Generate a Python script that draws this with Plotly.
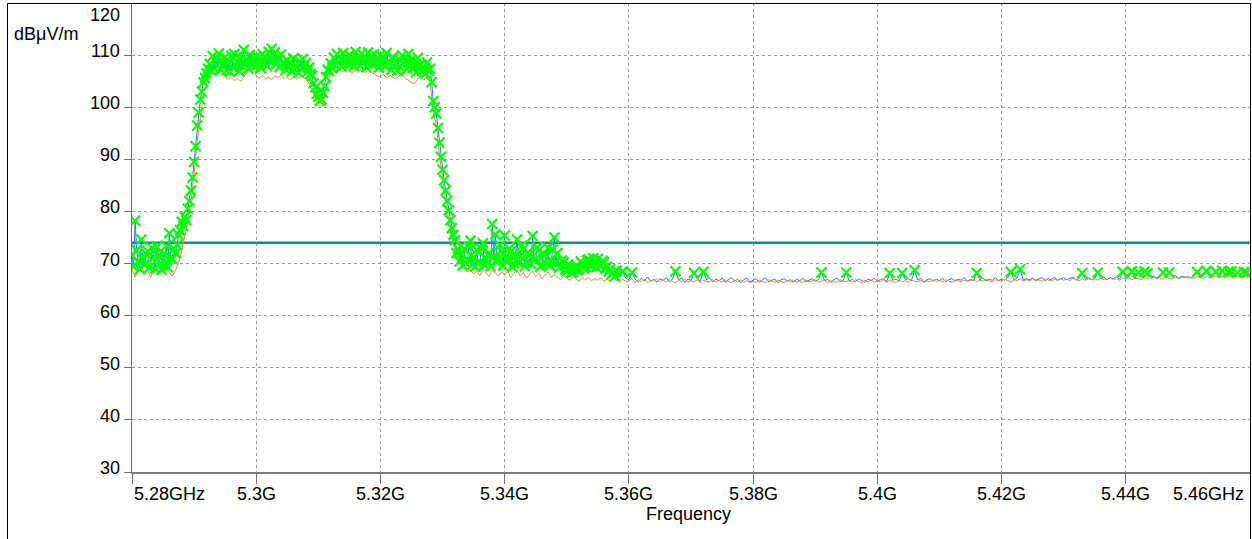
import numpy as np
import plotly.graph_objects as go

# Peak detector sweep: 0.25 MHz steps across the occupied band (5.28 - 5.358 GHz),
# 0.5 MHz steps above it up to 5.46 GHz
peak_freq_ghz = np.concatenate([np.linspace(5.28, 5.358, 313),
                                np.linspace(5.3585, 5.46, 204)])

# Peak detector trace (dBuV/m)
peak_dbuv = [
    # 5280.00 - 5358.00 MHz, 20 points per 5 MHz row
    71.5, 69.4, 78.2, 72.6, 70.5, 68.9, 74.6, 70.8, 69.8, 71.9, 72.4, 69.2, 69.5, 73.0, 71.2, 69.0, 73.2, 71.4, 70.0, 68.8,
    71.8, 70.2, 73.4, 69.3, 75.8, 71.0, 70.9, 72.8, 72.0, 73.6, 75.5, 76.4, 78.0, 77.2, 79.0, 78.3, 80.5, 82.0, 84.0, 86.5,
    89.5, 92.5, 96.5, 99.0, 101.5, 103.0, 104.8, 105.6, 106.5, 107.4, 108.3, 107.0, 109.8, 107.5, 109.2, 108.0, 110.3, 107.2, 109.0, 108.1,
    109.6, 107.1, 108.4, 106.8, 109.9, 107.6, 110.2, 108.0, 108.8, 106.9, 109.5, 107.8, 111.0, 108.3, 109.3, 107.4, 110.0, 108.6, 109.4, 107.9,
    109.8, 108.2, 108.9, 107.5, 110.2, 108.7, 109.5, 107.9, 110.6, 108.8, 111.2, 109.0, 110.5, 108.4, 109.6, 107.7, 110.1, 108.5, 108.6, 107.2,
    109.0, 107.6, 108.2, 106.9, 109.4, 107.8, 107.9, 106.6, 108.8, 107.3, 109.3, 107.9, 108.5, 106.8, 107.6, 106.4, 106.0, 104.6, 103.8, 102.6,
    102.0, 101.2, 101.5, 102.8, 104.0, 105.8, 107.2, 106.9, 108.4, 107.5, 109.5, 108.1, 110.2, 108.6, 109.1, 107.8, 110.4, 108.7, 109.6, 108.2,
    110.0, 108.4, 109.2, 107.9, 110.6, 108.8, 109.4, 108.0, 110.3, 108.6, 109.0, 107.7, 110.5, 108.9, 109.8, 108.2, 110.1, 108.5, 109.0, 107.6,
    110.0, 108.3, 109.5, 107.8, 110.4, 108.7, 108.6, 107.2, 109.6, 107.9, 108.4, 107.0, 109.2, 107.6, 109.9, 108.3, 108.8, 107.4, 110.2, 108.5,
    109.1, 107.5, 108.3, 106.7, 109.5, 107.8, 108.2, 106.9, 107.6, 106.5, 108.6, 107.0, 107.4, 104.8, 101.2, 100.0, 98.8, 96.0, 93.2, 90.5,
    88.0, 86.0, 84.0, 82.0, 80.2, 78.3, 76.8, 75.5, 74.5, 72.0, 72.8, 70.4, 71.8, 69.6, 72.8, 70.1, 70.8, 73.2, 74.4, 69.8,
    71.2, 69.4, 72.6, 70.0, 70.3, 72.9, 73.9, 69.7, 70.9, 71.8, 72.0, 69.5, 77.6, 71.3, 75.6, 70.2, 71.0, 73.5, 72.4, 69.6,
    75.4, 70.8, 70.6, 72.9, 72.3, 69.3, 70.0, 71.5, 74.6, 70.1, 71.4, 73.4, 72.8, 69.5, 70.2, 72.1, 71.7, 69.9, 75.3, 70.7,
    70.9, 73.1, 72.5, 69.4, 69.8, 71.9, 71.6, 70.0, 73.0, 69.6, 70.4, 72.7, 75.0, 70.3, 72.0, 69.2, 69.5, 70.6, 70.2, 68.9,
    68.6, 69.8, 69.2, 68.3, 68.4, 69.0, 69.6, 68.7, 69.0, 70.4, 70.0, 69.1, 69.4, 70.6, 70.8, 69.5, 69.8, 71.0, 70.3, 69.3,
    70.9, 69.7, 69.6, 70.5, 70.2, 69.0, 69.4, 68.5, 68.9, 68.0, 68.2, 67.6, 68.6,
    # 5358.5 - 5460.0 MHz, 10 points per 5 MHz row
    67.4, 68.5, 67.2,
    66.9, 68.3, 67.0, 66.5, 67.2, 66.7, 67.4, 66.6, 67.0, 66.4,
    67.1, 66.8, 67.3, 66.5, 67.0, 68.5, 66.9, 67.2, 66.4, 67.0,
    66.8, 68.2, 67.1, 66.6, 68.4, 66.9, 67.3, 66.5, 67.0, 66.7,
    67.2, 66.4, 66.9, 67.3, 66.6, 67.0, 66.3, 66.9, 67.2, 66.5,
    66.8, 67.1, 66.4, 66.9, 67.2, 66.5, 66.8, 67.0, 66.3, 66.9,
    67.1, 66.6, 66.9, 66.4, 67.0, 66.7, 67.2, 66.5, 66.8, 67.1,
    66.6, 66.9, 68.3, 66.7, 67.0, 66.4, 66.9, 67.2, 66.5, 66.8,
    68.3, 66.6, 67.0, 66.5, 67.1, 66.8, 66.4, 67.0, 66.7, 67.2,
    66.6, 66.9, 67.1, 66.5, 68.2, 66.8, 67.0, 66.6, 68.2, 66.9,
    67.1, 66.7, 68.7, 66.8, 67.2, 66.5, 66.9, 67.1, 66.6, 67.0,
    66.7, 67.2, 66.5, 66.9, 67.1, 66.6, 67.0, 66.8, 67.3, 66.6,
    67.0, 66.7, 68.2, 66.9, 67.2, 66.6, 67.0, 66.8, 67.3, 66.7,
    67.1, 66.8, 67.3, 68.4, 66.9, 67.2, 68.9, 66.8, 67.1, 66.9,
    67.2, 66.8, 67.0, 67.3, 66.7, 67.1, 66.9, 67.4, 66.8, 67.0,
    67.3, 66.9, 67.1, 67.4, 66.8, 67.2, 68.2, 67.0, 67.3, 66.9,
    67.2, 68.3, 67.0, 67.4, 66.9, 67.3, 67.1, 67.5, 67.0, 68.4,
    67.2, 67.5, 68.5, 67.1, 68.3, 67.4, 68.5, 68.2, 67.3, 67.6,
    67.2, 67.5, 68.3, 67.3, 68.3, 67.4, 67.7, 67.2, 67.6, 67.3,
    67.5, 67.2, 67.6, 68.4, 67.3, 67.7, 68.6, 67.4, 67.8, 68.4,
    67.5, 68.6, 67.6, 68.4, 68.5, 67.5, 68.3, 67.7, 68.4, 68.3,
    67.6,
]

# Average detector sweep: 5.28 - 5.46 GHz, 0.5 MHz steps
avg_freq_ghz = np.linspace(5.28, 5.46, 361)

# Average detector trace (dBuV/m), 10 points per 5 MHz row
avg_dbuv = [
    69.0, 67.4, 68.8, 69.3, 68.2, 68.9, 67.3, 69.0, 68.6, 68.0,
    68.9, 69.4, 68.3, 67.6, 68.7, 70.2, 72.5, 75.5, 78.0, 82.0,
    87.0, 93.5, 98.5, 102.5, 104.6, 106.2, 107.0, 107.6, 106.5, 107.3,
    106.0, 105.2, 105.7, 105.1, 105.5, 105.0, 105.8, 106.7, 107.6, 108.0,
    106.0, 105.6, 106.1, 105.4, 105.8, 105.3, 106.0, 105.7, 106.2, 105.5,
    105.8, 105.2, 105.9, 105.4, 105.7, 106.1, 105.3, 104.6, 103.2, 101.6,
    100.4, 100.1, 102.0, 104.8, 106.4, 107.0, 106.6, 107.2, 106.8, 107.3,
    106.9, 106.4, 107.2, 106.8, 107.4, 106.6, 107.1, 106.8, 106.4, 106.0,
    105.8, 106.3, 105.6, 106.1, 105.8, 105.4, 106.0, 106.3, 105.6, 105.2,
    104.7, 104.5, 105.4, 105.8, 105.2, 106.0, 104.8, 99.0, 96.5, 91.0,
    86.0, 82.0, 78.5, 75.0, 72.5, 70.8, 69.6, 69.0, 68.4, 68.8,
    68.0, 68.6, 67.7, 68.9, 68.2, 67.5, 68.7, 68.1, 67.6, 68.4,
    67.9, 68.5, 67.3, 68.2, 68.8, 67.6, 68.3, 67.2, 68.0, 68.6,
    67.5, 68.1, 67.1, 67.8, 68.4, 67.3, 68.0, 67.4, 66.9, 67.6,
    67.2, 66.8, 67.5, 67.0, 66.6, 67.3, 66.9, 67.4, 66.7, 67.1,
    66.8, 67.3, 66.6, 67.0, 66.5, 67.2, 66.8, 66.4, 67.0, 66.6,
    66.6, 67.1, 66.4, 66.9, 66.5, 67.0, 66.3, 66.8, 66.6, 67.1,
    66.5, 66.9, 66.4, 67.0, 66.6, 66.3, 66.8, 66.5, 67.0, 66.4,
    66.7, 66.5, 66.9, 66.3, 66.8, 66.6, 66.4, 66.9, 66.5, 66.8,
    66.4, 66.9, 66.6, 66.3, 66.8, 66.5, 66.9, 66.4, 66.7, 66.3,
    66.6, 66.4, 66.8, 66.5, 66.3, 66.9, 66.6, 66.4, 66.8, 66.5,
    66.3, 66.8, 66.5, 66.9, 66.4, 66.6, 66.3, 66.8, 66.5, 66.7,
    66.9, 66.4, 66.6, 66.8, 66.3, 66.7, 66.5, 66.4, 66.9, 66.6,
    66.5, 66.8, 66.4, 66.9, 66.6, 66.3, 66.8, 66.5, 66.9, 66.4,
    66.7, 66.5, 66.9, 66.4, 66.8, 66.6, 66.3, 66.9, 66.5, 66.7,
    66.4, 66.9, 66.6, 66.5, 66.8, 66.4, 66.7, 66.5, 66.9, 66.6,
    66.8, 66.5, 66.9, 66.6, 66.4, 66.9, 66.7, 66.5, 66.8, 66.6,
    66.7, 66.9, 66.5, 66.8, 66.6, 67.0, 66.7, 66.5, 66.9, 66.8,
    66.6, 67.0, 66.8, 66.5, 66.9, 66.7, 67.1, 66.6, 66.9, 66.7,
    67.0, 66.7, 66.9, 66.6, 67.1, 66.8, 66.6, 67.0, 66.8, 67.1,
    66.8, 67.0, 66.7, 67.2, 66.9, 66.7, 67.1, 66.8, 67.0, 66.9,
    67.1, 66.8, 67.2, 66.9, 67.0, 67.3, 66.9, 67.1, 66.8, 67.2,
    67.0, 67.3, 66.9, 67.2, 67.1, 66.9, 67.3, 67.0, 67.2, 67.4,
    67.1, 67.3, 67.0, 67.4, 67.2, 67.0, 67.4, 67.1, 67.3, 67.5,
    67.2, 67.4, 67.1, 67.5, 67.3, 67.1, 67.5, 67.2, 67.4, 67.6,
    67.3, 67.5, 67.2, 67.6, 67.4, 67.2, 67.6, 67.3, 67.5, 67.4,
    67.5,
]

# Limit line (dBuV/m)
limit_dbuv = 74.0

# Peak markers: every peak sweep point up to this frequency, plus isolated peaks above it
peak_dense_end_ghz = 5.358
peak_extra_ghz = [
    5.3590, 5.3605, 5.3675, 5.3705, 5.3720, 5.3910, 5.3950, 5.4020, 5.4040,
    5.4060, 5.4160, 5.4215, 5.4230, 5.4330, 5.4355, 5.4395, 5.4410, 5.4420,
    5.4430, 5.4435, 5.4460, 5.4470, 5.4515, 5.4530, 5.4545, 5.4555, 5.4565,
    5.4570, 5.4580, 5.4590, 5.4595,
]

x_tick_vals = [5.28, 5.30, 5.32, 5.34, 5.36, 5.38, 5.40, 5.42, 5.44, 5.46]
x_tick_text = ["5.28GHz", "5.3G", "5.32G", "5.34G", "5.36G", "5.38G",
               "5.4G", "5.42G", "5.44G", "5.46GHz"]
y_tick_vals = [30, 40, 50, 60, 70, 80, 90, 100, 110, 120]

FONT = "Liberation Sans, Arial, sans-serif"
FS = 18
BLUE = "#1f80f0"
ORANGE = "#ff7f40"
GREEN = "#00ff00"
TEAL = "#178a8c"

peak_arr = np.array(peak_dbuv)
freq_key = np.round(peak_freq_ghz * 4000).astype(int)
extra_key = np.round(np.array(peak_extra_ghz) * 4000).astype(int)
marker_mask = (peak_freq_ghz <= peak_dense_end_ghz + 1e-9) | np.isin(freq_key, extra_key)

fig = go.Figure()
fig.add_trace(go.Scatter(
    x=[avg_freq_ghz[0], avg_freq_ghz[-1]], y=[limit_dbuv, limit_dbuv], mode="lines",
    line=dict(color=TEAL, width=2.5), hoverinfo="skip", showlegend=False))
fig.add_trace(go.Scatter(
    x=peak_freq_ghz, y=peak_dbuv, mode="lines",
    line=dict(color=BLUE, width=1), showlegend=False))
fig.add_trace(go.Scatter(
    x=avg_freq_ghz, y=avg_dbuv, mode="lines",
    line=dict(color=ORANGE, width=1), showlegend=False))
fig.add_trace(go.Scatter(
    x=peak_freq_ghz[marker_mask], y=peak_arr[marker_mask], mode="markers",
    marker=dict(symbol="x-thin", size=10, color=GREEN,
                line=dict(color=GREEN, width=2.2)),
    showlegend=False))

# Plot-area geometry in pixels
W, H = 1252, 539
ML, MR, MT, MB = 132, 2, 3, 67
PW, PH = W - ML - MR, H - MT - MB


def px_to_paper_x(px):
    return (px - ML) / PW


def px_to_paper_y(py):
    return (H - MB - py) / PH


annotations = []
for v in y_tick_vals:
    annotations.append(dict(
        x=0, xref="paper", y=v, yref="y", text=str(v), showarrow=False,
        xanchor="right", yanchor="middle", xshift=-10,
        yshift=(-12 if v == 120 else 4),
        font=dict(family=FONT, size=FS, color="black")))
for i, (v, t) in enumerate(zip(x_tick_vals, x_tick_text)):
    anchor = "left" if i == 0 else ("right" if i == len(x_tick_vals) - 1 else "center")
    annotations.append(dict(
        x=v, xref="x", y=px_to_paper_y(494), yref="paper", text=t, showarrow=False,
        xanchor=anchor, yanchor="middle", xshift=(-4 if anchor == "right" else 0),
        font=dict(family=FONT, size=FS, color="black")))
annotations.append(dict(
    x=px_to_paper_x(688), xref="paper", y=px_to_paper_y(514), yref="paper",
    text="Frequency", showarrow=False, xanchor="center", yanchor="middle",
    font=dict(family=FONT, size=FS, color="black")))
annotations.append(dict(
    x=px_to_paper_x(12), xref="paper", y=px_to_paper_y(34), yref="paper",
    text="dBμV/m", showarrow=False, xanchor="left", yanchor="middle",
    font=dict(family=FONT, size=FS, color="black")))

shapes = [
    # outer frame
    dict(type="rect", xref="paper", yref="paper",
         x0=px_to_paper_x(7.5), x1=px_to_paper_x(1250.5),
         y0=px_to_paper_y(545), y1=px_to_paper_y(3.5),
         line=dict(color="black", width=1), fillcolor="rgba(0,0,0,0)", layer="above"),
]

fig.update_layout(
    width=W, height=H,
    margin=dict(l=ML, r=MR, t=MT, b=MB),
    paper_bgcolor="white", plot_bgcolor="white",
    font=dict(family=FONT, size=FS, color="black"),
    annotations=annotations, shapes=shapes,
    xaxis=dict(
        range=[5.28, 5.46], tickmode="array", tickvals=x_tick_vals,
        showticklabels=False, ticks="outside", ticklen=10, tickcolor="#6e6e6e",
        showgrid=True, gridcolor="#9a9a9a", griddash="dot", gridwidth=1,
        showline=True, linecolor="#7a7a7a", linewidth=2, zeroline=False,
    ),
    yaxis=dict(
        range=[30, 120], tickmode="array", tickvals=y_tick_vals,
        showticklabels=False, ticks="outside", ticklen=7, tickcolor="#6e6e6e",
        showgrid=True, gridcolor="#9a9a9a", griddash="dot", gridwidth=1,
        showline=True, linecolor="#6e6e6e", linewidth=1, zeroline=False,
    ),
)

fig.write_html("out.html")
